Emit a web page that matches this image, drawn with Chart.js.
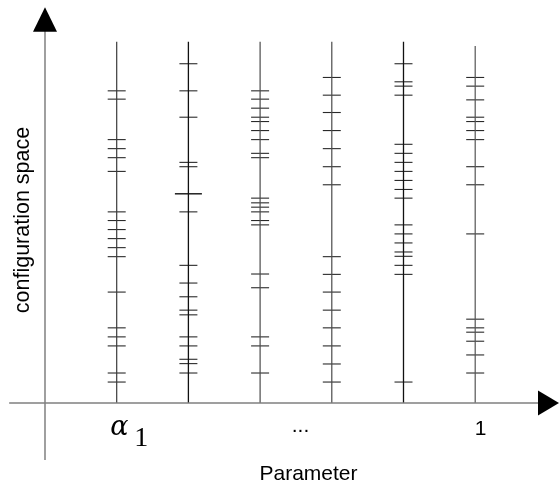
<!DOCTYPE html>
<html><head><meta charset="utf-8">
<style>html,body{margin:0;padding:0;background:#fff}canvas{display:block}</style>
<script src="https://cdn.jsdelivr.net/npm/chart.js@4/dist/chart.umd.min.js"></script>
</head><body>
<canvas id="c" width="559" height="487"></canvas>
<script>
// Parameter positions (index along the parameter axis)
const params = [1, 2, 3, 4, 5, 6];
const paramLabels = ["α1", "...", "1"];
// Height of each vertical configuration line (config-space units, 0..100)
const lineTops = [100, 100, 100, 100, 100, 98.8];
// Configuration values (tick marks) on each line
const cfg1 = [86.4, 84.1, 72.9, 70.4, 67.9, 64.1, 52.9, 50.5, 48.0, 45.5, 43.0, 40.5, 30.7, 20.8, 18.3, 15.8, 8.3, 5.8];
const cfg2 = [93.9, 86.4, 79.1, 66.6, 65.4, 57.9, 52.9, 38.1, 33.2, 29.4, 25.7, 24.4, 18.3, 15.8, 12.1, 10.9, 8.3];
const cfg3 = [86.4, 84.1, 81.6, 79.1, 77.9, 75.4, 72.9, 69.1, 67.9, 56.7, 55.4, 54.2, 52.9, 50.5, 49.3, 35.7, 31.9, 18.3, 15.8, 8.3];
const cfg4 = [90.1, 85.2, 80.4, 75.4, 70.4, 65.4, 60.4, 40.5, 35.6, 30.7, 25.7, 20.8, 15.8, 10.8, 5.8];
const cfg5 = [93.9, 88.9, 87.7, 85.2, 71.6, 69.1, 66.6, 64.1, 61.6, 59.1, 56.7, 49.3, 46.8, 44.3, 41.8, 40.6, 38.1, 35.6, 5.8];
const cfg6 = [90.1, 87.7, 83.9, 79.1, 77.9, 75.4, 72.9, 65.4, 60.4, 46.8, 23.2, 20.8, 19.6, 17.1, 13.3, 8.3];
const configs = [cfg1, cfg2, cfg3, cfg4, cfg5, cfg6];
// one special (longer) mark
const longMark = {x: 2, y: 57.9};

const lineColors = ['#3a3a3a', '#111', '#4a4a4a', '#4a4a4a', '#111', '#555'];

const datasets = [];
params.forEach((p, i) => {
  datasets.push({
    type: 'line',
    data: [{x: p, y: 0}, {x: p, y: lineTops[i]}],
    borderColor: lineColors[i],
    borderWidth: (i === 1 || i === 4) ? 1.3 : 1.2,
    pointRadius: 0,
    fill: false
  });
  datasets.push({
    type: 'scatter',
    data: configs[i].filter(v => !(p === longMark.x && v === longMark.y)).map(v => ({x: p, y: v})),
    pointStyle: 'line',
    pointRadius: 9,
    pointHoverRadius: 9,
    borderColor: '#2a2a2a',
    backgroundColor: '#2a2a2a',
    pointBorderWidth: 1.1,
    borderWidth: 1.1
  });
});
datasets.push({
  type: 'scatter',
  data: [longMark],
  pointStyle: 'line',
  pointRadius: 13.5,
  borderColor: '#111',
  pointBorderWidth: 1.4,
  borderWidth: 1.4
});

const axesPlugin = {
  id: 'axes',
  afterDatasetsDraw(chart) {
    const ctx = chart.ctx, xs = chart.scales.x, ys = chart.scales.y;
    const x0 = xs.getPixelForValue(0), y0 = ys.getPixelForValue(0);
    ctx.save();
    ctx.strokeStyle = '#808080';
    ctx.lineWidth = 1.5;
    ctx.beginPath();
    ctx.moveTo(xs.getPixelForValue(-0.5), y0);
    ctx.lineTo(538, y0);
    ctx.moveTo(x0, ys.getPixelForValue(-15.8));
    ctx.lineTo(x0, 31);
    ctx.stroke();
    ctx.fillStyle = '#000';
    ctx.beginPath();
    ctx.moveTo(x0, 7.3); ctx.lineTo(x0 - 12, 31.7); ctx.lineTo(x0 + 12, 31.7); ctx.closePath();
    ctx.fill();
    ctx.beginPath();
    ctx.moveTo(559, y0); ctx.lineTo(538, y0 - 12.5); ctx.lineTo(538, y0 + 12.5); ctx.closePath();
    ctx.fill();

    // labels
    ctx.fillStyle = '#000';
    ctx.textBaseline = 'alphabetic';
    const p1 = xs.getPixelForValue(params[0]);
    ctx.textAlign = 'left';
    ctx.font = 'italic 27px "DejaVu Serif", "Liberation Serif", serif';
    ctx.fillText(paramLabels[0][0], p1 - 6.5, 435);
    ctx.font = '28px "Liberation Serif", "DejaVu Serif", serif';
    ctx.fillText(paramLabels[0][1], p1 + 17.5, 446);
    ctx.textAlign = 'center';
    ctx.font = '21px "Liberation Sans", Arial, sans-serif';
    ctx.fillText(paramLabels[1], 300.5, 432);
    ctx.fillText(paramLabels[2], xs.getPixelForValue(params[5]) + 5.5, 435);
    ctx.fillText('Parameter', 308.5, 480);
    ctx.save();
    ctx.translate(28.8, 220);
    ctx.rotate(-Math.PI / 2);
    ctx.font = '21.5px "Liberation Sans", Arial, sans-serif';
    ctx.fillText('configuration space', 0, 0);
    ctx.restore();
    ctx.restore();
  }
};

new Chart(document.getElementById('c'), {
  data: {datasets},
  options: {
    responsive: false,
    devicePixelRatio: 1,
    animation: false,
    layout: {padding: 0, autoPadding: false},
    plugins: {legend: {display: false}, tooltip: {enabled: false}},
    events: [],
    scales: {
      x: {type: 'linear', display: false, min: -0.6276, max: 7.1688},
      y: {type: 'linear', display: false, min: -23.25, max: 111.54}
    }
  },
  plugins: [axesPlugin]
});
</script>
</body></html>
